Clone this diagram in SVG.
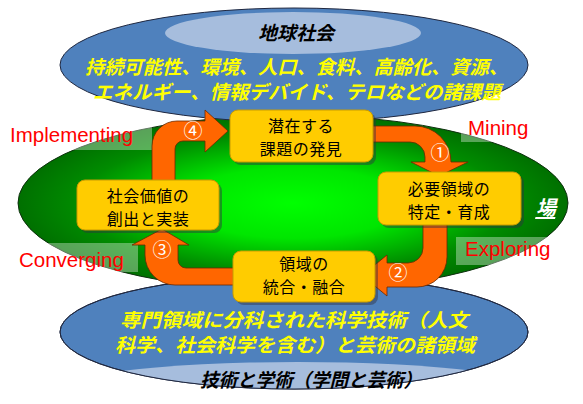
<svg xmlns="http://www.w3.org/2000/svg" width="583" height="404" viewBox="0 0 583 404">
<style>
.jp{font-family:"Noto Sans CJK JP","Noto Sans CJK SC",sans-serif}
.yel{fill:#FFFF00;font-weight:bold;font-size:19px}
.blk{fill:#000;font-weight:bold;font-size:19px}
.box{fill:#FFCC00;stroke:#C89B00;stroke-width:1}
.shd{fill:#303040;opacity:0.45}
.bt{fill:#000;font-size:16px;text-anchor:middle;letter-spacing:0.5px}
.lbl{font-family:"Liberation Sans",Arial,sans-serif;font-size:20.5px;fill:#FF0000}
.lb{fill:#FFFFFF;opacity:0.35}
.arr{fill:#FF6600;stroke:#6A2A00;stroke-width:0.8}
.num{fill:#FFFFFF;font-size:19px;text-anchor:middle}
.blue{fill:#4F81BD;stroke:#202840;stroke-width:1}
</style>
<defs>
<radialGradient id="g" cx="0.5" cy="0.5" r="0.5">
<stop offset="0" stop-color="#00FF00"/>
<stop offset="0.4" stop-color="#00E600"/>
<stop offset="0.78" stop-color="#008C00"/>
<stop offset="1" stop-color="#007000"/>
</radialGradient>
<clipPath id="cb"><ellipse cx="294" cy="332" rx="234" ry="57"/></clipPath>
</defs>
<rect width="583" height="404" fill="#FFFFFF"/>

<g id="field">
<ellipse cx="293" cy="203" rx="275" ry="88" fill="url(#g)" stroke="#103010" stroke-width="1"/>
<rect class="lb" x="3" y="122" width="149" height="28"/>
<rect class="lb" x="461" y="114" width="105" height="28"/>
<rect class="lb" x="456" y="237" width="110" height="28"/>
<rect class="lb" x="8" y="243" width="130" height="29"/>
<text class="jp" transform="translate(546,215) skewX(-14)" x="0" y="0" font-size="20" font-weight="bold" fill="#FFFFFF" text-anchor="middle" text-decoration="underline">場</text>
</g>

<g id="global-society">
<ellipse class="blue" cx="294" cy="65" rx="234" ry="57"/>
<ellipse cx="293" cy="33" rx="128" ry="21" fill="#A6BDDD"/>
<text class="jp blk" transform="translate(296,40) skewX(-14)" x="0" y="0" text-anchor="middle" font-size="20">地球社会</text>
<text class="jp yel" transform="translate(85,74) skewX(-14)" x="0" y="0" textLength="423" lengthAdjust="spacingAndGlyphs">持続可能性、環境、人口、食料、高齢化、資源、</text>
<text class="jp yel" transform="translate(93,99) skewX(-14)" x="0" y="0" textLength="408" lengthAdjust="spacingAndGlyphs">エネルギー、情報デバイド、テロなどの諸課題</text>
</g>

<g id="disciplines">
<ellipse class="blue" cx="294" cy="332" rx="234" ry="57"/>
<ellipse cx="298" cy="393" rx="250" ry="31" fill="#A6BDDD" clip-path="url(#cb)"/>
<ellipse cx="294" cy="332" rx="234" ry="57" fill="none" stroke="#202840" stroke-width="1"/>
<text class="jp yel" transform="translate(120,327) skewX(-14)" x="0" y="0" textLength="348" lengthAdjust="spacingAndGlyphs">専門領域に分科された科学技術（人文</text>
<text class="jp yel" transform="translate(115,352) skewX(-14)" x="0" y="0" textLength="360" lengthAdjust="spacingAndGlyphs">科学、社会科学を含む）と芸術の諸領域</text>
<text class="jp blk" transform="translate(200,387) skewX(-14)" x="0" y="0" textLength="222" lengthAdjust="spacingAndGlyphs">技術と学術（学問と芸術）</text>
</g>

<g id="labels">
<text class="lbl" x="10" y="142">Implementing</text>
<text class="lbl" x="468" y="135">Mining</text>
<text class="lbl" x="465" y="256">Exploring</text>
<text class="lbl" x="19" y="267">Converging</text>
</g>

<g id="connectors">
<path class="arr" d="M367,126 L415,126 A36,36 0 0 1 451,162 L468,162 L439,176 L411,162 L425,162 L425,157 A15,15 0 0 0 410,142 L367,142 Z"/>
<path class="arr" d="M423,222 L447,222 L447,257 A30,30 0 0 1 417,287 L387,287 L387,296 L362,275.5 L387,255 L387,263 L408,263 A15,15 0 0 0 423,248 Z"/>
<path class="arr" d="M236,285 L175,285 A30,30 0 0 1 145,255 L145,245 L132,245 L162,229 L189,245 L178,245 L178,260 A8,8 0 0 0 186,268 L236,268 Z"/>
<path class="arr" d="M152,182 L152,146 A25,25 0 0 1 177,121 L205,121 L205,110 L228,131 L205,152 L205,141 L183,141 A8,8 0 0 0 175,149 L175,182 Z"/>
<text class="jp num" x="440" y="160">①</text>
<text class="jp num" x="398" y="280">②</text>
<text class="jp num" x="162" y="257">③</text>
<text class="jp num" x="193" y="138">④</text>
</g>

<g id="box-discover">
<rect class="shd" x="233" y="113" width="143" height="52" rx="8"/>
<rect class="box" x="230" y="110" width="143" height="52" rx="8"/>
<text class="jp bt" x="301" y="132">潜在する</text>
<text class="jp bt" x="301" y="155">課題の発見</text>
</g>

<g id="box-identify">
<rect class="shd" x="381" y="175" width="143" height="53" rx="8"/>
<rect class="box" x="378" y="172" width="143" height="53" rx="8"/>
<text class="jp bt" x="449" y="195">必要領域の</text>
<text class="jp bt" x="449" y="218">特定・育成</text>
</g>

<g id="box-integrate">
<rect class="shd" x="236" y="254" width="142" height="51" rx="8"/>
<rect class="box" x="233" y="251" width="142" height="51" rx="8"/>
<text class="jp bt" x="304" y="270">領域の</text>
<text class="jp bt" x="304" y="293">統合・融合</text>
</g>

<g id="box-implement">
<rect class="shd" x="80" y="183" width="142" height="50" rx="8"/>
<rect class="box" x="77" y="180" width="142" height="50" rx="8"/>
<text class="jp bt" x="148" y="202">社会価値の</text>
<text class="jp bt" x="148" y="225">創出と実装</text>
</g>
</svg>
